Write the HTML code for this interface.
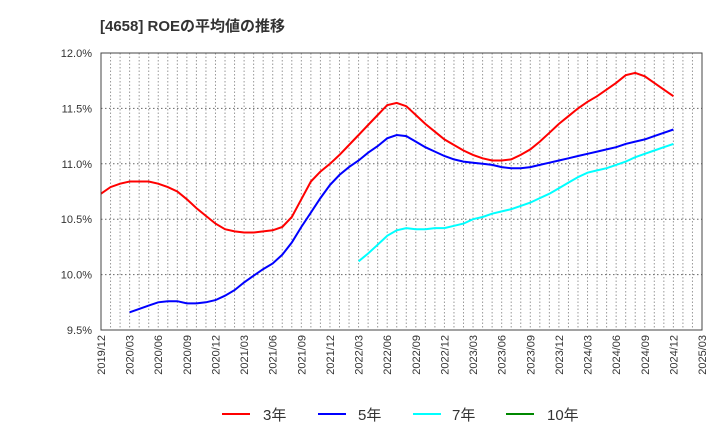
<!DOCTYPE html>
<html><head><meta charset="utf-8"><style>
body{margin:0;background:#fff;}
svg text{font-family:"Liberation Sans","Noto Sans CJK JP",sans-serif;}
</style></head><body>
<svg width="720" height="440" xmlns="http://www.w3.org/2000/svg">
<text x="100" y="31" font-size="15" font-weight="bold" fill="#333">[4658]  ROEの平均値の推移</text>
<g id="grid"></g>
<g id="axes"></g>
<g id="series"></g>
<rect x="101" y="53" width="601" height="277" fill="none" stroke="#444" stroke-width="1"/>
<g>
<g><line x1="222" y1="414" x2="250" y2="414" stroke="#f00" stroke-width="2"/><text x="263" y="420" font-size="15" fill="#333">3年</text></g>
<g><line x1="318" y1="414" x2="346" y2="414" stroke="#00f" stroke-width="2"/><text x="358" y="420" font-size="15" fill="#333">5年</text></g>
<g><line x1="413" y1="414" x2="441" y2="414" stroke="#0ff" stroke-width="2"/><text x="452" y="420" font-size="15" fill="#333">7年</text></g>
<g><line x1="506" y1="414" x2="534" y2="414" stroke="#080" stroke-width="2"/><text x="547" y="420" font-size="15" fill="#333">10年</text></g>
</g>
</svg>
<script>
const xTickLabels=["2019/12","2020/03","2020/06","2020/09","2020/12","2021/03","2021/06","2021/09","2021/12","2022/03","2022/06","2022/09","2022/12","2023/03","2023/06","2023/09","2023/12","2024/03","2024/06","2024/09","2024/12","2025/03"];
const yTicks=[9.5,10.0,10.5,11.0,11.5,12.0];
const roe3Start=0;
const roe3=[10.73,10.79,10.82,10.84,10.84,10.84,10.82,10.79,10.75,10.68,10.60,10.53,10.46,10.41,10.39,10.38,10.38,10.39,10.40,10.43,10.52,10.68,10.84,10.93,11.00,11.08,11.17,11.26,11.35,11.44,11.53,11.55,11.52,11.44,11.36,11.29,11.22,11.17,11.12,11.08,11.05,11.03,11.03,11.04,11.08,11.13,11.20,11.28,11.36,11.43,11.50,11.56,11.61,11.67,11.73,11.80,11.82,11.79,11.73,11.67,11.61];
const roe5Start=3;
const roe5=[9.66,9.69,9.72,9.75,9.76,9.76,9.74,9.74,9.75,9.77,9.81,9.86,9.93,9.99,10.05,10.10,10.18,10.29,10.43,10.56,10.69,10.81,10.90,10.97,11.03,11.10,11.16,11.23,11.26,11.25,11.20,11.15,11.11,11.07,11.04,11.02,11.01,11.00,10.99,10.97,10.96,10.96,10.97,10.99,11.01,11.03,11.05,11.07,11.09,11.11,11.13,11.15,11.18,11.20,11.22,11.25,11.28,11.31];
const roe7Start=27;
const roe7=[10.12,10.19,10.27,10.35,10.40,10.42,10.41,10.41,10.42,10.42,10.44,10.46,10.50,10.52,10.55,10.57,10.59,10.62,10.65,10.69,10.73,10.78,10.83,10.88,10.92,10.94,10.96,10.99,11.02,11.06,11.09,11.12,11.15,11.18];
const roe10Start=0;
const roe10=[];

const L=101,R=702,T=53,B=330,NM=63;
const xS=i=>L+i*(R-L)/NM;
const yS=v=>B-(v-9.5)/(12-9.5)*(B-T);
const NS="http://www.w3.org/2000/svg";
const grid=document.getElementById('grid'),axes=document.getElementById('axes'),ser=document.getElementById('series');
for(let m=1;m<NM;m++){
 const l=document.createElementNS(NS,'line');
 
 
 l.setAttribute('x1',xS(m));l.setAttribute('x2',xS(m));l.setAttribute('y1',T);l.setAttribute('y2',B);
 l.setAttribute('stroke','#999');l.setAttribute('stroke-dasharray','1.5,2');grid.appendChild(l);
}
yTicks.forEach(v=>{
 const l=document.createElementNS(NS,'line');
 
 
 l.setAttribute('x1',L);l.setAttribute('x2',R);l.setAttribute('y1',yS(v));l.setAttribute('y2',yS(v));
 l.setAttribute('stroke','#666');l.setAttribute('stroke-dasharray','1.5,2.5');grid.appendChild(l);
 const t=document.createElementNS(NS,'text');
 
 
 t.setAttribute('x',92);t.setAttribute('y',yS(v)+4);t.setAttribute('text-anchor','end');t.setAttribute('font-size','11');t.setAttribute('fill','#333');
 t.textContent=v.toFixed(1)+'%';axes.appendChild(t);
});
xTickLabels.forEach((s,k)=>{
 const x=xS(k*3);
 const t=document.createElementNS(NS,'text');
 
 
 t.setAttribute('transform','translate('+(x+4)+','+(B+5)+') rotate(-90)');
 t.setAttribute('text-anchor','end');t.setAttribute('font-size','11');t.setAttribute('fill','#333');
 t.textContent=s;axes.appendChild(t);
});
function draw(arr,start,color,name){
 if(!arr.length)return;
 const p=document.createElementNS(NS,'polyline');
 
 
 p.setAttribute('points',arr.map((v,i)=>xS(start+i).toFixed(1)+','+yS(v).toFixed(1)).join(' '));
 p.setAttribute('fill','none');p.setAttribute('stroke',color);p.setAttribute('stroke-width','2');
 ser.appendChild(p);
}
draw(roe3,roe3Start,'#f00','series-3y');
draw(roe5,roe5Start,'#00f','series-5y');
draw(roe7,roe7Start,'#0ff','series-7y');
draw(roe10,roe10Start,'#080','series-10y');
</script>
</body></html>
